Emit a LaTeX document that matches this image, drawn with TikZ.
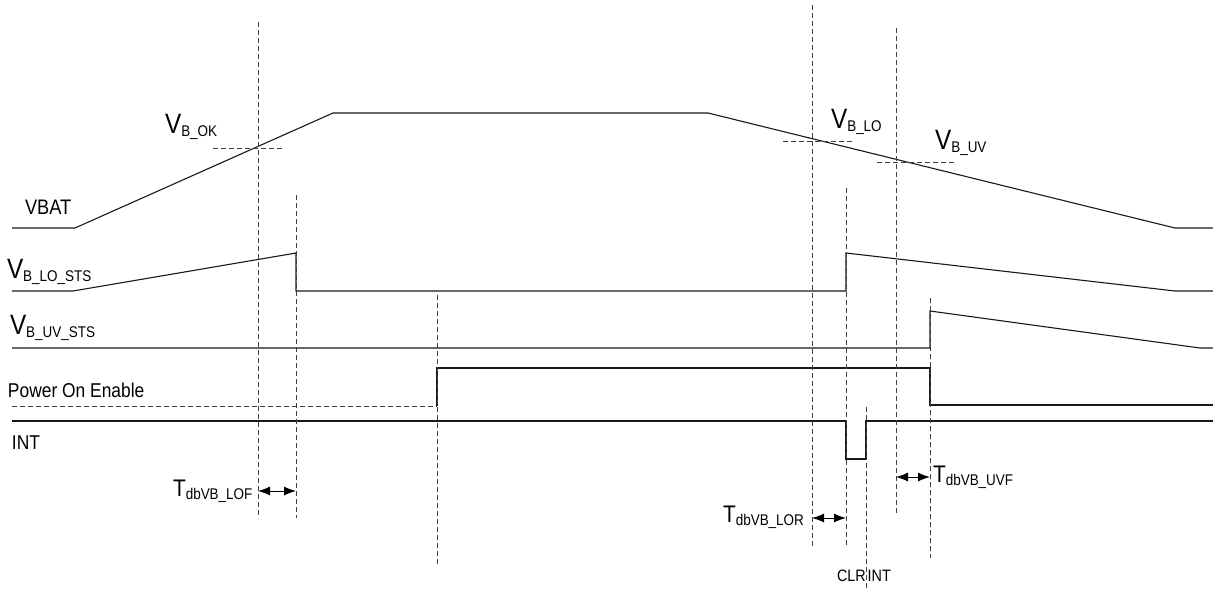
\documentclass[tikz,border=0pt]{standalone}
\usepackage{fontspec}
\setmainfont{Liberation Sans}[FakeStretch=0.87]
\usetikzlibrary{arrows.meta}
\newcommand\subtxt[1]{\raisebox{-3pt}{\fontsize{15.5}{16}\selectfont #1}}
\newcommand\vlbl[1]{{\fontsize{28}{28}\selectfont V}\subtxt{#1}}
\newcommand\tlbl[1]{{\fontsize{24}{24}\selectfont T}\subtxt{#1}}
\begin{document}
\begin{tikzpicture}[x=1pt,y=-1pt,
  wave/.style={line width=1.1pt,black!90},
  guide/.style={line width=0.8pt,black!75,dash pattern=on 5pt off 3pt},
  lbl/.style={anchor=base west,inner sep=0pt,outer sep=0pt},
  dbl/.style={line width=1pt,{Latex[length=12pt,width=9pt]}-{Latex[length=12pt,width=9pt]}}]
\useasboundingbox (0,0) rectangle (1213,590);
% waveforms
\draw[wave] (12,228) -- (75,228) -- (333,113) -- (708,113) -- (1175,228) -- (1213,228);
\draw[wave] (12,291) -- (73,291) -- (296,253) -- (296,291) -- (846,291) -- (846,253) -- (1175,291) -- (1213,291);
\draw[wave] (12,348) -- (930,348) -- (930,311) -- (1200,348) -- (1213,348);
\draw[guide,line width=1pt] (12,406) -- (437,406);
\draw[wave] (437,406) -- (437,368) -- (930,368) -- (930,405) -- (1213,405);
\draw[wave] (12,421) -- (846,421) -- (846,459) -- (866,459) -- (866,421) -- (1213,421);
% threshold marks
\draw[guide] (213,148) -- (282,148);
\draw[guide] (783,141) -- (852,141);
\draw[guide] (877,162) -- (957,162);
% vertical guides
\draw[guide] (258,22) -- (258,518);
\draw[guide] (296,195) -- (296,518);
\draw[guide] (437,295) -- (437,565);
\draw[guide] (812,5) -- (812,547);
\draw[guide] (846,188) -- (846,547);
\draw[guide] (866,407) -- (866,590);
\draw[guide] (896,28) -- (896,515);
\draw[guide] (930,298) -- (930,558);
% arrows
\coordinate (lofa) at (258,491);
\coordinate (lofb) at (296,491);
\coordinate (lora) at (812,518);
\coordinate (lorb) at (846,518);
\coordinate (uvfa) at (896,477);
\coordinate (uvfb) at (930,477);
\draw[dbl] (lofa) -- (lofb);
\draw[dbl] (lora) -- (lorb);
\draw[dbl] (uvfa) -- (uvfb);
% labels
\node[lbl] (vbat) at (25,214) {\fontsize{21}{21}\selectfont VBAT};
\node[lbl] (losts) at (7,278) {\vlbl{B\_LO\_STS}};
\node[lbl] (uvsts) at (10,334) {\vlbl{B\_UV\_STS}};
\node[lbl] (poe) at (8,397) {\fontsize{20}{20}\selectfont Power On Enable};
\node[lbl] (int) at (12,449) {\fontsize{20}{20}\selectfont INT};
\node[lbl] (vbok) at (165,133) {\vlbl{B\_OK}};
\node[lbl] (vblo) at (831,128) {\vlbl{B\_LO}};
\node[lbl] (vbuv) at (935,149) {\vlbl{B\_UV}};
\node[lbl] (tlof) at (173,496) {\tlbl{dbVB\_LOF}};
\node[lbl] (tlor) at (723,522) {\tlbl{dbVB\_LOR}};
\node[lbl] (tuvf) at (933,482) {\tlbl{dbVB\_UVF}};
\node[lbl] (clr) at (837,581) {\fontsize{16.5}{17}\selectfont CLR\kern2pt INT};
\end{tikzpicture}
\end{document}
